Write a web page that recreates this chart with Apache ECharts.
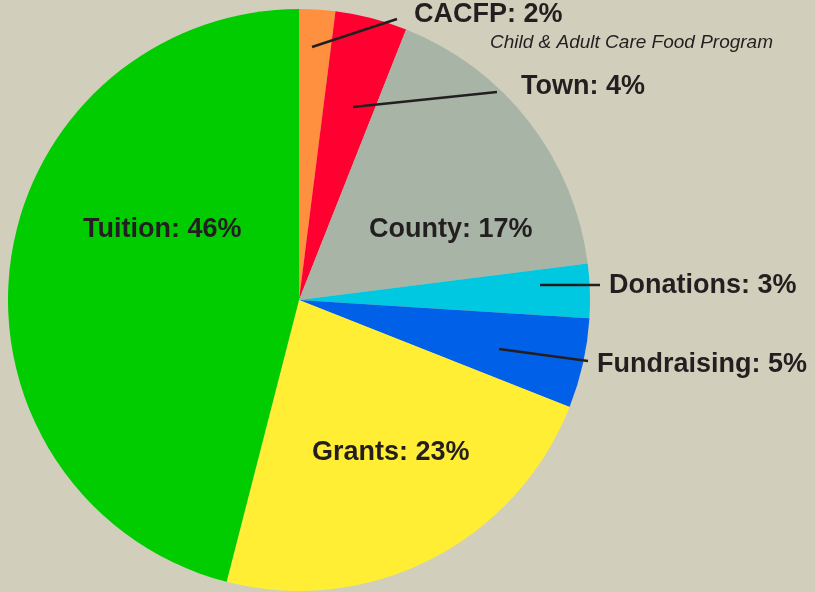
<!DOCTYPE html>
<html>
<head>
<meta charset="utf-8">
<script src="https://cdn.jsdelivr.net/npm/echarts@6/dist/echarts.min.js"></script>
<style>
  html, body { margin: 0; padding: 0; background: #d1cfbc; }
  #main { width: 815px; height: 592px; }
</style>
</head>
<body>
<div id="main"></div>
<script>
// 数据
const categories = ["CACFP", "Town", "County", "Donations", "Fundraising", "Grants", "Tuition"];
const values = [2, 4, 17, 3, 5, 23, 46];
const colors = ["#ff9040", "#ff0030", "#a7b4a6", "#00c8e0", "#0060e8", "#ffee33", "#00cc00"];
const cacfpNote = "Child & Adult Care Food Program";

const FONT = "'Liberation Sans', Arial, sans-serif";

// label anchors (left x, y)
const labelPos = [
  [414, 1, "top"],
  [521, 87, "middle"],
  [369, 230, "middle"],
  [609, 286, "middle"],
  [597, 365, "middle"],
  [312, 453, "middle"],
  [83, 230, "middle"],
];
// leader lines
const leaders = [
  [[312, 47], [397, 19]],
  [[353, 107], [497, 92]],
  [[540, 285], [600, 285]],
  [[499, 349], [588, 361]],
];

const chart = echarts.init(document.getElementById("main"));

const option = {
  backgroundColor: "#d1cfbc",
  animation: false,
  textStyle: { fontFamily: FONT },
  series: [
    {
      type: "pie",
      center: [299, 300],
      radius: [0, 291],
      startAngle: 90,
      clockwise: true,
      avoidLabelOverlap: false,
      itemStyle: { borderWidth: 0 },
      labelLine: { show: false },
      label: {
        show: true,
        position: "outside",
        color: "#231f20",
        fontSize: 27,
        fontWeight: "bold",
        fontFamily: FONT,
        formatter: (p) => {
          if (p.dataIndex === 0) {
            return "{a|" + p.name + ": " + p.value + "%}\n{b|" + cacfpNote + "}";
          }
          return p.name + ": " + p.value + "%";
        },
        rich: {
          a: {
            fontSize: 27,
            fontWeight: "bold",
            color: "#231f20",
            lineHeight: 27,
            fontFamily: FONT,
          },
          b: {
            fontSize: 19,
            fontStyle: "italic",
            fontWeight: "normal",
            color: "#231f20",
            lineHeight: 30,
            padding: [0, 0, 0, 76],
            fontFamily: FONT,
          },
        },
      },
      labelLayout: (params) => {
        const p = labelPos[params.dataIndex];
        return { x: p[0], y: p[1], align: "left", verticalAlign: p[2] };
      },
      data: categories.map((c, i) => ({
        name: c,
        value: values[i],
        itemStyle: { color: colors[i] },
      })),
    },
  ],
  graphic: leaders.map((l) => ({
    type: "line",
    z: 100,
    shape: { x1: l[0][0], y1: l[0][1], x2: l[1][0], y2: l[1][1] },
    style: { stroke: "#231f20", lineWidth: 2.5 },
  })),
};

chart.setOption(option);
</script>
</body>
</html>
